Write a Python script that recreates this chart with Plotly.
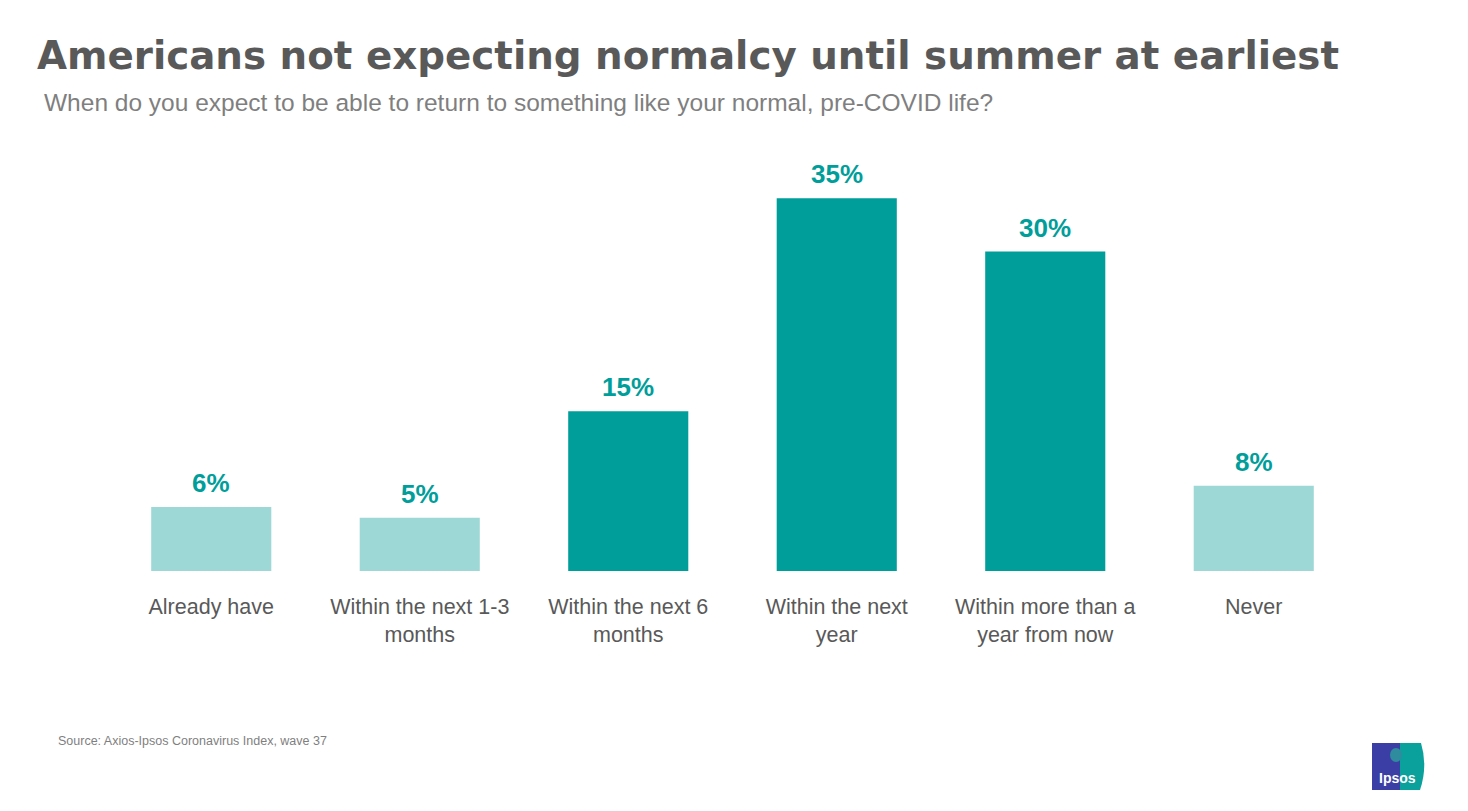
import plotly.graph_objects as go

categories = ["Already have", "Within the next 1-3<br>months", "Within the next 6<br>months",
              "Within the next<br>year", "Within more than a<br>year from now", "Never"]
values = [6, 5, 15, 35, 30, 8]
highlight = [False, False, True, True, True, False]

DARK = "#009E9A"
LIGHT = "#9DD8D7"
colors = [DARK if h else LIGHT for h in highlight]

W, H = 1468, 811
L, R, T, B = 107, 110, 145, 240
PW, PH = W - L - R, H - T - B

def px(x):
    return (x - L) / PW
def py(y):
    return 1 - (y - T) / PH

fig = go.Figure()
fig.add_trace(go.Bar(
    x=list(range(len(categories))), y=values,
    marker=dict(color=colors, line=dict(width=0)),
    cliponaxis=False, width=0.576, hoverinfo="skip",
))

for i, v in enumerate(values):
    fig.add_annotation(x=i, y=v, text=f"<b>{v}%</b>", showarrow=False,
                       xanchor="center", yanchor="bottom", yshift=7,
                       font=dict(family="Liberation Sans", size=26, color=DARK))

fig.update_layout(
    width=W, height=H,
    margin=dict(l=L, r=R, t=T, b=B),
    paper_bgcolor="white", plot_bgcolor="white",
    showlegend=False,
    xaxis=dict(range=[-0.5, 5.5], tickmode="array", tickvals=list(range(len(categories))),
               ticktext=categories, showgrid=False, zeroline=False, showline=False,
               ticks="outside", ticklen=16, tickcolor="rgba(0,0,0,0)",
               tickfont=dict(family="Liberation Sans", size=21.5, color="#595959")),
    yaxis=dict(range=[0, 40], visible=False, showgrid=False, zeroline=False),
    font=dict(family="Liberation Sans"),
)

# Title, subtitle, source
fig.add_annotation(text="<b>Americans not expecting normalcy until summer at earliest</b>",
                   xref="paper", yref="paper", x=px(35), y=py(55),
                   xanchor="left", yanchor="middle", showarrow=False,
                   font=dict(family="DejaVu Sans", size=38.8, color="#595959"))
fig.add_annotation(text="When do you expect to be able to return to something like your normal, pre-COVID life?",
                   xref="paper", yref="paper", x=px(42), y=py(102),
                   xanchor="left", yanchor="middle", showarrow=False,
                   font=dict(family="Liberation Sans", size=24.5, color="#7F7F7F"))
fig.add_annotation(text="Source: Axios-Ipsos Coronavirus Index, wave 37",
                   xref="paper", yref="paper", x=px(56), y=py(741),
                   xanchor="left", yanchor="middle", showarrow=False,
                   font=dict(family="Liberation Sans", size=12.5, color="#7F7F7F"))

# Ipsos logo (decorative)
fig.add_shape(type="rect", xref="paper", yref="paper",
              x0=px(1372), x1=px(1401), y0=py(790), y1=py(743),
              fillcolor="#3B3FA5", line=dict(width=0), layer="above")
fig.add_shape(type="path", xref="paper", yref="paper",
              path=f"M {px(1400)} {py(743)} L {px(1421)} {py(743)} Q {px(1428)} {py(766)} {px(1420)} {py(790)} L {px(1400)} {py(790)} Z",
              fillcolor="#0AA19D", line=dict(width=0), layer="above")
fig.add_shape(type="circle", xref="paper", yref="paper",
              x0=px(1390), x1=px(1402), y0=py(762), y1=py(748),
              fillcolor="#2E8C9E", line=dict(width=0), layer="above")
fig.add_annotation(text="<b>Ipsos</b>", xref="paper", yref="paper",
                   x=px(1397), y=py(778), xanchor="center", yanchor="middle", showarrow=False,
                   font=dict(family="Liberation Sans", size=14, color="white"))

fig.write_html("out.html", post_script="document.body.style.margin='0';",
               config={"displayModeBar": False})
